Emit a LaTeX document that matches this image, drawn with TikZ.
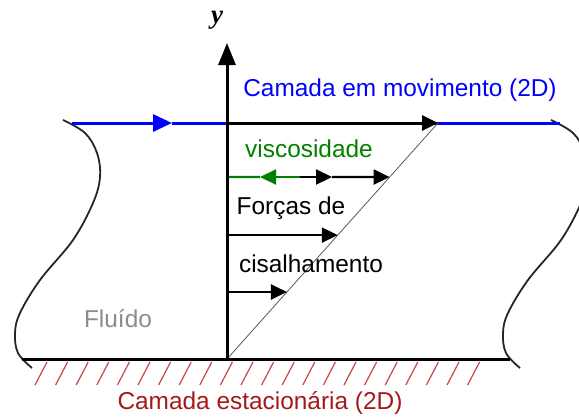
\documentclass[tikz,border=0pt]{standalone}
\usepackage{fontspec}
\setmainfont{Liberation Sans}
\newfontfamily\serifbi{Liberation Serif}
\usetikzlibrary{arrows.meta,calc}
\definecolor{darkred}{RGB}{165,25,25}
\definecolor{hatchred}{RGB}{200,70,70}
\definecolor{visc}{RGB}{0,128,0}
\definecolor{fluidgray}{RGB}{140,140,140}
\begin{document}
\begin{tikzpicture}[x=1bp,y=-1bp,
lbl/.style={font=\fontsize{24.5}{28}\selectfont,inner sep=0},
arw/.style={-{Triangle[length=16bp,width=15bp]}},
wall/.style={line width=3bp},
shear/.style={line width=2.2bp},
fluid/.style={line width=1.8bp,black!85}
]
%\draw[help lines,step=20](0,0)grid(579,417);
\useasboundingbox(0,0)rectangle(579,417);

% wavy edges of the fluid
\draw[fluid] plot[smooth,tension=0.6] coordinates{(63,120)(85,133)(97,153)(100,177)(93,203)(73,240)(40,280)(20,313)(15,333)(18,353)(32,368)};
\begin{scope}[shift={(488,0)}]
\draw[fluid] plot[smooth,tension=0.6] coordinates{(63,120)(85,133)(97,153)(100,177)(93,203)(73,240)(40,280)(20,313)(15,333)(18,353)(32,368)};
\end{scope}

\coordinate(O)at(227,359);
\coordinate(Y)at(227,43);
\coordinate(P)at(438,123);
\coordinate(tl)at(72,123);
\coordinate(tr)at(560,123);
\coordinate(bm)at(172,123);
\coordinate(bl)at(22,359);
\coordinate(br)at(510,359);

% stationary layer
\foreach \i in {0,...,21}
  \draw[hatchred,line width=1.2bp](47+20.6*\i,362)--++(-12,23);
\draw[wall](bl)--(br);

% moving layer
\draw[wall,blue](bm)--(tr);
\draw[wall,blue,-{Triangle[length=19bp,width=17bp]}](tl)--(bm);
\draw[wall,arw](O|-tl)--(P);

% velocity profile
\draw[black!65,line width=0.8bp](O)--(P);
\coordinate(a1)at($(O)!0.771!(P)$);
\coordinate(a2)at($(O)!0.525!(P)$);
\coordinate(a3)at($(O)!0.284!(P)$);
\coordinate(g1)at(300,177);
\coordinate(g2)at(260,177);
\coordinate(k1)at(332,177);
\draw[shear,visc](O|-a1)--(g2);
\draw[shear,visc,arw](g1)--(g2);
\draw[shear,arw](g1)--(k1);
\draw[shear,arw](k1)--(a1);
\draw[shear,arw](O|-a2)--(a2);
\draw[shear,arw](O|-a3)--(a3);

% y axis
\draw[wall,-{Triangle[length=22bp,width=17bp]}](O)--(Y);

\node[font=\serifbi\bfseries\itshape\fontsize{27}{30}\selectfont,inner sep=0]at(217,20)(y){y};
\node[lbl,blue]at(400,90)(mov){Camada em movimento (2D)};
\node[lbl,visc]at(309,149)(vis){viscosidade};
\node[lbl]at(291,208)(f1){Forças de};
\node[lbl]at(311,264)(f2){cisalhamento};
\node[lbl,fluidgray]at(118,319)(fl){Fluído};
\node[lbl,darkred]at(260,403)(st){Camada estacionária (2D)};

\end{tikzpicture}
\end{document}
